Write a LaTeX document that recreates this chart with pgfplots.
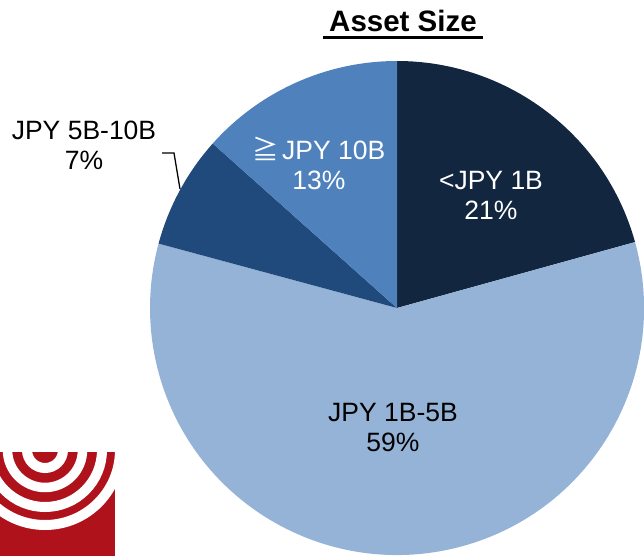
\documentclass[border=0pt]{standalone}
\usepackage{pgfplots}
\pgfplotsset{compat=1.18}
\usepackage{fontspec}
\setmainfont{Liberation Sans}
\newfontfamily\cjk{Noto Sans CJK JP}
\definecolor{cA}{HTML}{13263F}
\definecolor{cB}{HTML}{95B3D7}
\definecolor{cC}{HTML}{214A7C}
\definecolor{cD}{HTML}{4F81BD}
\definecolor{logored}{HTML}{B0121B}
% shares (percent, unrounded estimates), clockwise from 12 o'clock
\def\vA{20.7}\def\vB{58.5}\def\vC{7.4}\def\vD{13.4}
\begin{document}
\begin{tikzpicture}
\begin{axis}[
  x=1pt, y=1pt,
  xmin=0, xmax=644, ymin=0, ymax=556,
  y dir=reverse,
  hide axis,
  clip=true,
]
% pie slices
\pgfmathsetmacro{\aA}{90}
\pgfmathsetmacro{\aB}{90-3.6*\vA}
\pgfmathsetmacro{\aC}{\aB-3.6*\vB}
\pgfmathsetmacro{\aD}{\aC-3.6*\vC}
\pgfmathsetmacro{\aE}{\aD-3.6*\vD}
\fill[cA] (axis cs:397,308) -- ++(\aA:247pt) arc[start angle=\aA, end angle=\aB, radius=247pt] -- cycle;
\fill[cB] (axis cs:397,308) -- ++(\aB:247pt) arc[start angle=\aB, end angle=\aC, radius=247pt] -- cycle;
\fill[cC] (axis cs:397,308) -- ++(\aC:247pt) arc[start angle=\aC, end angle=\aD, radius=247pt] -- cycle;
\fill[cD] (axis cs:397,308) -- ++(\aD:247pt) arc[start angle=\aD, end angle=\aE, radius=247pt] -- cycle;
% slice labels
\node[white, align=center, font=\fontsize{26.5}{30}\selectfont] at (axis cs:491,195) {<JPY 1B\\21\%};
\node[black, align=center, font=\fontsize{26.5}{30}\selectfont] at (axis cs:393,428) {JPY 1B-5B\\59\%};
\node[white, align=center, font=\fontsize{26.5}{30}\selectfont] at (axis cs:319,163) {{\cjk ≧}\hspace{3pt}JPY 10B\\13\%};
\node[black, align=center, font=\fontsize{26.5}{30}\selectfont] at (axis cs:84,145) {JPY 5B-10B\\7\%};
\draw[black, line width=1.3pt] (axis cs:162,153) -- (axis cs:174,153) -- (axis cs:180,189);
% title
\node[font=\fontsize{29.5}{32}\selectfont\bfseries, anchor=base] at (axis cs:403,32) {Asset Size};
\draw[black, line width=2.5pt] (axis cs:323,37.5) -- (axis cs:483,37.5);
% logo
\begin{scope}
\clip (axis cs:0,452) rectangle (axis cs:115,556);
\fill[logored] (axis cs:0,452) rectangle (axis cs:115,556);
\draw[white, line width=10pt] (axis cs:45,450) circle[radius=18pt];
\draw[white, line width=9.5pt] (axis cs:45,450) circle[radius=37.5pt];
\draw[white, line width=10pt] (axis cs:45,450) circle[radius=57pt];
\draw[white, line width=10pt] (axis cs:45,450) circle[radius=75pt];
\end{scope}
\end{axis}
\pgfresetboundingbox
\useasboundingbox (current axis.south west) rectangle (current axis.north east);
\end{tikzpicture}
\end{document}
